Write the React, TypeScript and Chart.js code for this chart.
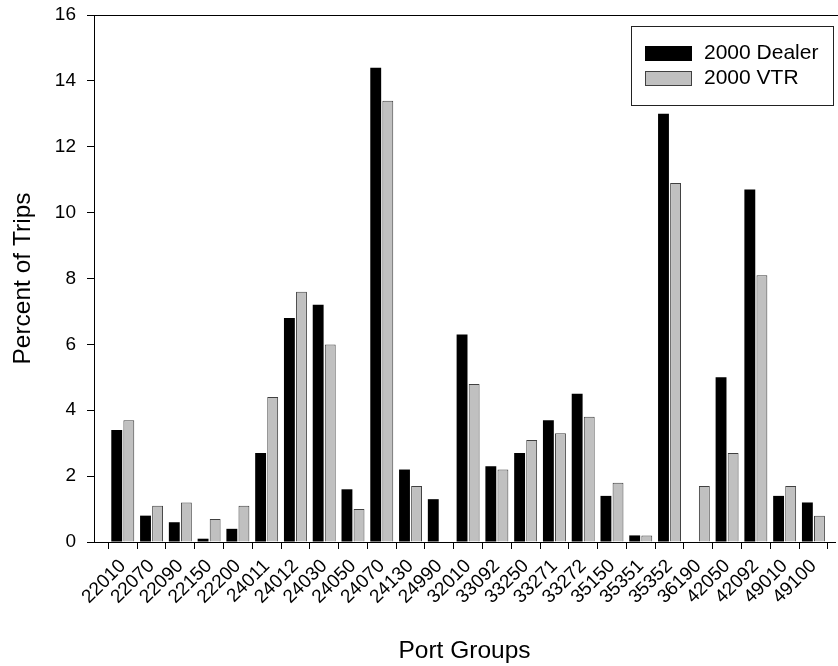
import React, { useEffect, useRef } from 'react';
import { Chart, registerables } from 'chart.js';

Chart.register(...registerables);

const portGroups = ['22010', '22070', '22090', '22150', '22200', '24011', '24012', '24030', '24050', '24070', '24130', '24990', '32010', '33092', '33250', '33271', '33272', '35150', '35351', '35352', '36190', '42050', '42092', '49010', '49100'];
const dealer2000 = [3.4, 0.8, 0.6, 0.1, 0.4, 2.7, 6.8, 7.2, 1.6, 14.4, 2.2, 1.3, 6.3, 2.3, 2.7, 3.7, 4.5, 1.4, 0.2, 13.0, 0, 5.0, 10.7, 1.4, 1.2];
const vtr2000 = [3.7, 1.1, 1.2, 0.7, 1.1, 4.4, 7.6, 6.0, 1.0, 13.4, 1.7, 0, 4.8, 2.2, 3.1, 3.3, 3.8, 1.8, 0.2, 10.9, 1.7, 2.7, 8.1, 1.7, 0.8];
const seriesNames = ['2000 Dealer', '2000 VTR'];
const yMin = 0;
const yMax = 16;
const yStep = 2;

const FONT = '"Liberation Sans", Arial, Helvetica, sans-serif';

const frameAndLegend = {
  id: 'frameAndLegend',
  afterDraw(chart: any) {
    const { ctx, chartArea } = chart;
    ctx.save();
    // top frame line
    ctx.strokeStyle = '#000';
    ctx.lineWidth = 1;
    ctx.beginPath();
    const ty = Math.round(chartArea.top) + 0.5;
    ctx.moveTo(chartArea.left, ty);
    ctx.lineTo(chart.width, ty);
    ctx.stroke();

    // legend box
    const bx = chartArea.right - 204.5;
    const by = chartArea.top + 10.5;
    const bw = 202;
    const bh = 78.5;
    ctx.fillStyle = '#fff';
    ctx.fillRect(bx, by, bw, bh);
    ctx.strokeStyle = '#222';
    ctx.strokeRect(Math.round(bx) + 0.5, Math.round(by) + 0.5, Math.round(bw), Math.round(bh));

    const ds = chart.data.datasets;
    const sx = bx + 14.5;
    const sw = 47;
    const sh = 15;
    ds.forEach((d: any, i: number) => {
      const sy = by + 20 + i * 25;
      ctx.fillStyle = d.backgroundColor;
      ctx.fillRect(Math.round(sx), Math.round(sy), sw, sh);
      if (d.borderWidth) {
        ctx.strokeStyle = d.borderColor;
        ctx.lineWidth = 1;
        ctx.strokeRect(Math.round(sx) + 0.5, Math.round(sy) + 0.5, sw - 1, sh - 1);
      }
      ctx.fillStyle = '#000';
      ctx.font = `21px ${FONT}`;
      ctx.textBaseline = 'middle';
      ctx.textAlign = 'left';
      ctx.fillText(d.label, bx + 73.5, sy + sh / 2 + 0.5);
    });
    ctx.restore();
  },
};

export default function App() {
  const ref = useRef<HTMLCanvasElement>(null);

  useEffect(() => {
    if (!ref.current) return;
    const chart = new Chart(ref.current, {
      type: 'bar',
      data: {
        datasets: [
          {
            label: seriesNames[0],
            data: dealer2000.map((v, i) => ({ x: i + 1, y: v })),
            backgroundColor: '#000000',
            borderColor: '#000000',
            borderWidth: 0,
          },
          {
            label: seriesNames[1],
            data: vtr2000.map((v, i) => ({ x: i + 1, y: v })),
            backgroundColor: '#c0c0c0',
            borderColor: '#404040',
            borderWidth: 1,
          },
        ],
      },
      options: {
        animation: false,
        responsive: false,
        devicePixelRatio: 1,
        layout: { padding: { top: 15, right: 3, left: 0, bottom: 0 } },
        datasets: { bar: { categoryPercentage: 0.84, barPercentage: 0.9 } } as any,
        plugins: { legend: { display: false }, tooltip: { enabled: false } },
        scales: {
          x: {
            type: 'linear',
            min: 0,
            max: 25.75,
            offset: false,
            afterBuildTicks: (s: any) => {
              s.ticks = portGroups.map((_, i) => ({ value: i + 1 }));
            },
            afterFit: (s: any) => {
              s.height = 124;
              s.paddingLeft = 0;
              s.paddingRight = 0;
            },
            grid: { display: true, drawOnChartArea: false, drawTicks: true, tickLength: 7, color: '#000', lineWidth: 1 },
            border: { display: true, color: '#000', width: 1 },
            ticks: {
              autoSkip: false,
              minRotation: 45,
              maxRotation: 45,
              padding: 6,
              color: '#000',
              font: { family: FONT, size: 19 },
              callback: (v: any) => portGroups[Math.round(Number(v)) - 1] ?? '',
            },
            title: {
              display: true,
              text: 'Port Groups',
              color: '#000',
              font: { family: FONT, size: 24.5, lineHeight: 1 },
              padding: { top: 0, bottom: 3 },
            },
          },
          y: {
            min: yMin,
            max: yMax,
            afterFit: (s: any) => {
              s.width = 94;
              s.paddingTop = 0;
              s.paddingBottom = 0;
            },
            grid: { display: true, drawOnChartArea: false, drawTicks: true, tickLength: 7, color: '#000', lineWidth: 1 },
            border: { display: true, color: '#000', width: 1 },
            ticks: {
              stepSize: yStep,
              padding: 11,
              color: '#000',
              font: { family: FONT, size: 19 },
            },
            title: {
              display: true,
              text: 'Percent of Trips',
              color: '#000',
              font: { family: FONT, size: 24.5, lineHeight: 1 },
              padding: { top: 11, bottom: 0 },
            },
          },
        },
      },
      plugins: [frameAndLegend],
    });
    return () => chart.destroy();
  }, []);

  return (
    <div style={{ position: 'absolute', left: 0, top: 0, width: 838, height: 666, background: '#fff' }}>
      <canvas ref={ref} width={838} height={666} style={{ width: 838, height: 666, display: 'block' }} />
    </div>
  );
}
